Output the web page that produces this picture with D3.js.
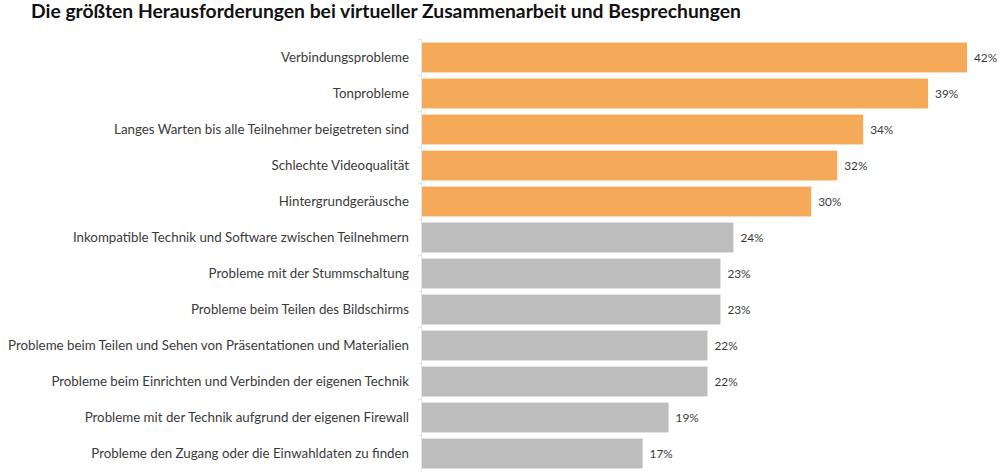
<!DOCTYPE html>
<html><head><meta charset="utf-8">
<script src="https://cdn.jsdelivr.net/npm/d3@7"></script>
<style>html,body{margin:0;padding:0;background:#fff}svg{display:block}text{font-family:Lato,"Open Sans",sans-serif}</style>
</head><body><svg id="c" width="1000" height="476"></svg>
<script>
const chartTitle = "Die größten Herausforderungen bei virtueller Zusammenarbeit und Besprechungen";
const categories = ["Verbindungsprobleme","Tonprobleme","Langes Warten bis alle Teilnehmer beigetreten sind","Schlechte Videoqualität","Hintergrundgeräusche","Inkompatible Technik und Software zwischen Teilnehmern","Probleme mit der Stummschaltung","Probleme beim Teilen des Bildschirms","Probleme beim Teilen und Sehen von Präsentationen und Materialien","Probleme beim Einrichten und Verbinden der eigenen Technik","Probleme mit der Technik aufgrund der eigenen Firewall ","Probleme den Zugang oder die Einwahldaten zu finden"];
const values = [42,39,34,32,30,24,23,23,22,22,19,17];
const colorsBars = ["#f5aa59","#f5aa59","#f5aa59","#f5aa59","#f5aa59","#bdbdbd","#bdbdbd","#bdbdbd","#bdbdbd","#bdbdbd","#bdbdbd","#bdbdbd"];
const svg = d3.select("#c");
const x = d3.scaleLinear().domain([0,42]).range([422,967]);
const y = d3.scaleBand().domain(categories).range([39.5,471.5]).paddingInner(0.17).paddingOuter(0.085);
const gapOffset = y.step()*y.paddingInner()/2;
svg.append("text").attr("x",31).attr("y",18).attr("font-size",19.3).attr("font-weight",700).attr("fill","#111").text(chartTitle);
svg.append("g").selectAll("rect").data(categories).join("rect")
 .attr("x",x(0)).attr("y",d=>y(d)).attr("width",(d,i)=>x(values[i])-x(0)).attr("height",y.bandwidth()).attr("fill",(d,i)=>colorsBars[i]);
svg.append("line").attr("x1",x(0)-.5).attr("x2",x(0)-.5).attr("y1",y.range()[0]).attr("y2",y.range()[1]).attr("stroke","#e4e4e4");
svg.append("g").selectAll("line").data(categories).join("line")
 .attr("x1",x(0)-4).attr("x2",x(0)).attr("y1",d=>y(d)-gapOffset).attr("y2",d=>y(d)-gapOffset).attr("stroke","#e4e4e4");
svg.append("g").selectAll("text").data(categories).join("text")
 .attr("x",409).attr("y",d=>y(d)+y.bandwidth()/2+4.5).attr("text-anchor","end").attr("font-size",13.3).attr("fill","#3a3a3a").text(d=>d);
svg.append("g").selectAll("text").data(categories).join("text")
 .attr("x",(d,i)=>x(values[i])+7).attr("y",d=>y(d)+y.bandwidth()/2+4.5).attr("font-size",11.8).attr("fill","#3a3a3a").text((d,i)=>values[i]+"%");
</script></body></html>
